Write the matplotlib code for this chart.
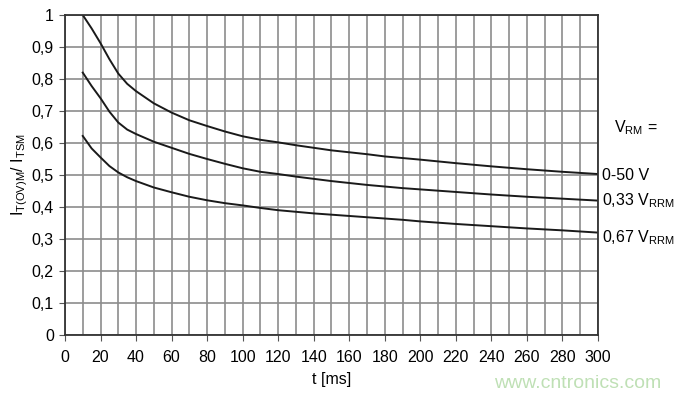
import matplotlib
matplotlib.use("Agg")
import matplotlib.pyplot as plt
import numpy as np

plt.rcParams['font.family'] = ['Liberation Sans', 'DejaVu Sans']
plt.rcParams['mathtext.default'] = 'regular'

# t [ms] and curves
t = [10, 15, 20, 25, 30, 35, 40, 50, 60, 70, 80, 90, 100, 110, 120, 130, 140,
     150, 160, 170, 180, 190, 200, 220, 240, 260, 280, 300]
v_0_50 = [1.0, 0.958, 0.912, 0.862, 0.817, 0.785, 0.762, 0.724, 0.695, 0.671,
          0.653, 0.636, 0.621, 0.61, 0.602, 0.593, 0.585, 0.577, 0.571, 0.565,
          0.558, 0.553, 0.548, 0.537, 0.527, 0.518, 0.51, 0.503]
v_033 = [0.82, 0.778, 0.74, 0.698, 0.664, 0.642, 0.628, 0.604, 0.585, 0.566,
         0.55, 0.535, 0.521, 0.51, 0.503, 0.495, 0.488, 0.481, 0.475, 0.469,
         0.464, 0.459, 0.455, 0.447, 0.439, 0.432, 0.426, 0.42]
v_067 = [0.622, 0.583, 0.555, 0.528, 0.508, 0.493, 0.481, 0.461, 0.446, 0.432,
         0.421, 0.412, 0.405, 0.397, 0.39, 0.385, 0.38, 0.376, 0.372, 0.368,
         0.364, 0.36, 0.355, 0.347, 0.34, 0.333, 0.327, 0.32]

curve_labels = ["0-50 V", "0,33 $V_{RRM}$", "0,67 $V_{RRM}$"]
label_y = [0.5, 0.42, 0.305]

fig = plt.figure(figsize=(6.79, 3.98), dpi=100)
ax = fig.add_axes([0.0957, 0.1583, 0.785, 0.804])

ax.set_xlim(0, 300)
ax.set_ylim(0, 1)
ax.set_xticks(np.arange(0, 301, 20))
ax.set_yticks(np.arange(0, 1.01, 0.1))
ax.set_yticklabels(["0" if v == 0 else ("1" if v == 1 else f"{v:.1f}".replace(".", ","))
                    for v in np.arange(0, 1.01, 0.1)])
ax.set_xticks(np.arange(0, 301, 10), minor=True)
ax.grid(True, which='both', axis='x', color='#8c8c8c', lw=1.2)
ax.grid(True, which='major', axis='y', color='#8c8c8c', lw=1.2)
ax.tick_params(which='major', direction='out', length=4, color='#555555',
               labelsize=11.5)
ax.tick_params(axis='x', pad=7)
ax.tick_params(axis='y', pad=4)
ax.tick_params(which='minor', length=0)
for s in ax.spines.values():
    s.set_color('#333333')
    s.set_linewidth(1.3)

for y in [v_0_50, v_033, v_067]:
    ax.plot(t, y, color='#1a1a1a', lw=1.4)

ax.set_xlabel("t [ms]", fontsize=11.5, labelpad=5)
ax.set_ylabel("$I_{T(OV)M}$/ $I_{TSM}$", fontsize=11.5, labelpad=1)

ax.text(309, 0.647, "$V_{RM}$ =", fontsize=11.5, va='center', ha='left')
for lab, y in zip(curve_labels, label_y):
    ax.text(302, y, lab, fontsize=11.5, va='center', ha='left')

fig.text(0.728, 0.025, "www.cntronics.com", color='#bfe0b5', fontsize=14)

fig.savefig("out.png", dpi=100)
